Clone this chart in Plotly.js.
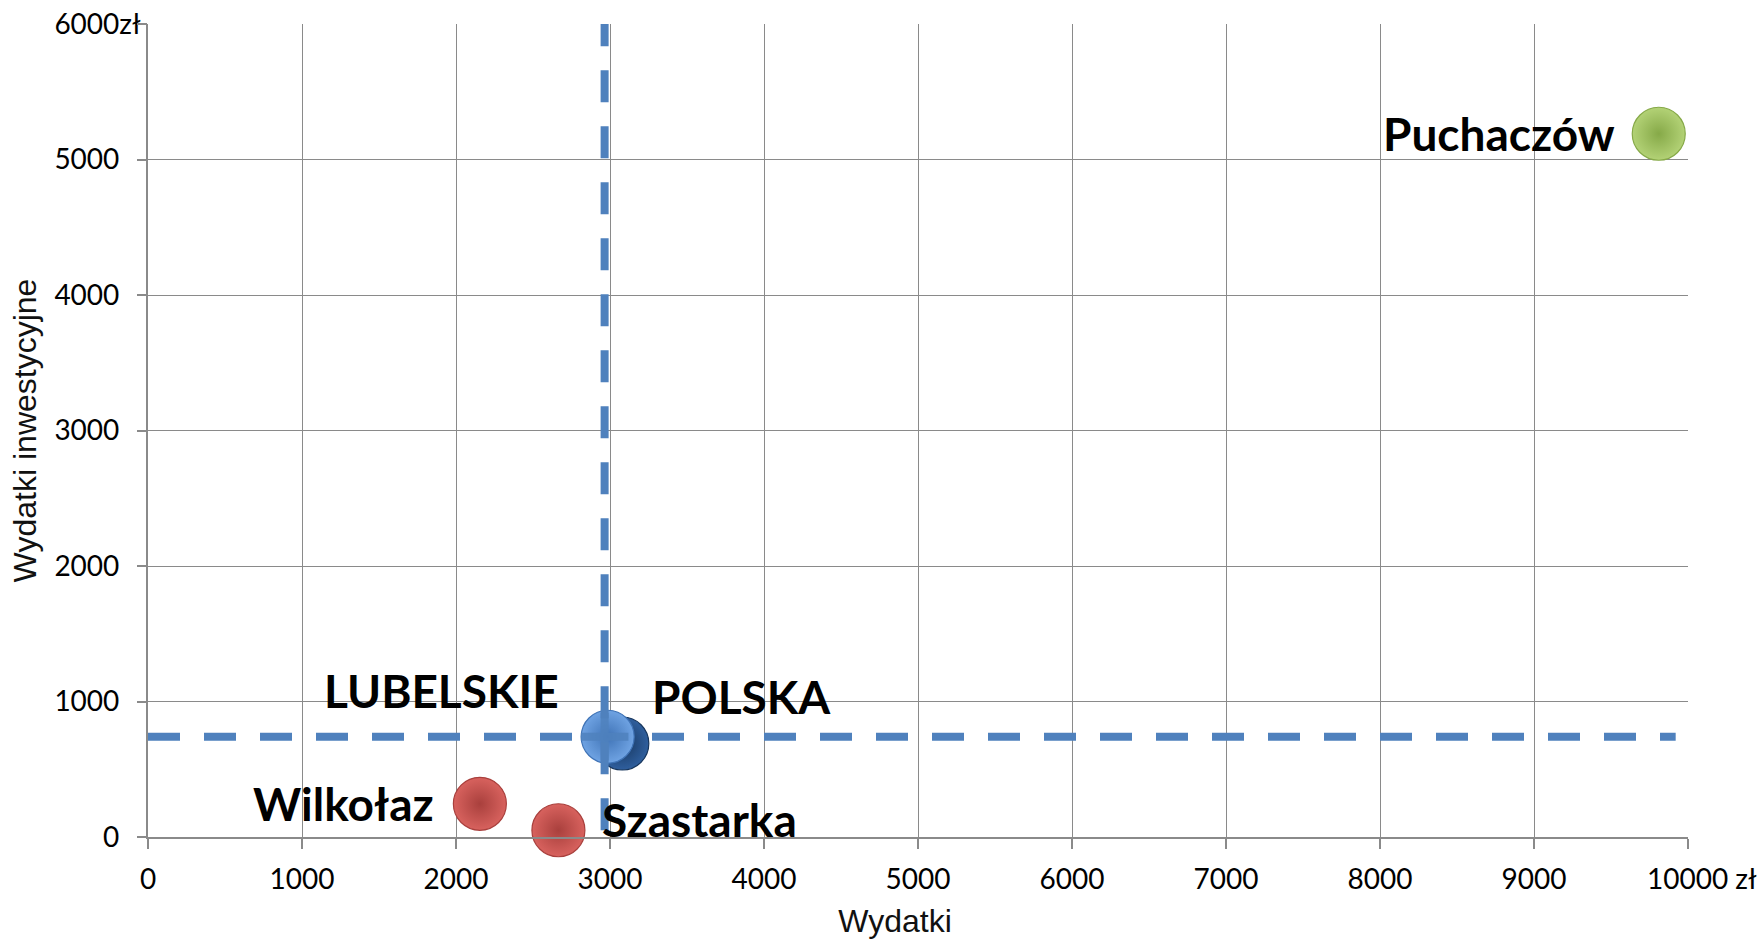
<!DOCTYPE html>
<html>
<head>
<meta charset="utf-8">
<script src="https://cdn.plot.ly/plotly-3.0.1.min.js"></script>
<style>html,body{margin:0;padding:0;background:#fff;}#chart{width:1760px;height:939px;}</style>
</head>
<body>
<div id="chart"></div>
<script>
// ---- data ----
const labels = ['Puchaczów', 'POLSKA', 'LUBELSKIE', 'Wilkołaz', 'Szastarka'];
const wydatki = [9810, 3080, 2985, 2155, 2665];          // x: Wydatki (zł)
const wydatkiInwest = [5190, 690, 740, 245, 50];          // y: Wydatki inwestycyjne (zł)
const refX = [2965, 2965];                                 // vertical reference line (x)
const refXspan = [50, 6000];
const refY = [740, 740];                                   // horizontal reference line (y)
const refYspan = [0, 9920];
const xTickVals = [0, 1000, 2000, 3000, 4000, 5000, 6000, 7000, 8000, 9000, 10000];
const xTickLabels = ['0', '1000', '2000', '3000', '4000', '5000', '6000', '7000', '8000', '9000', '10000 zł'];
const yTickVals = [0, 1000, 2000, 3000, 4000, 5000, 6000];
const yTickLabels = ['0', '1000', '2000', '3000', '4000', '5000', '6000zł'];

// ---- styles ----
const centers = ['#B3D276', '#2F5F9E', '#6FA3E3', '#D8625E', '#D8625E'];
const rims    = ['#86A948', '#17365D', '#3F73B6', '#A9403D', '#A9403D'];
const anchors = ['right', 'left', 'right', 'right', 'left'];
const xShifts = [-42, 28, -47, -44, 42];
const yShifts = [0, 47, 46, 0, 11];
const hidden = s => '<span style="color:rgba(0,0,0,0)">' + s + '</span>';
const yTickText = yTickLabels.map(t => t.endsWith('zł') ? t : t + hidden('zł'));
const xTickText = xTickLabels.map(t => t.endsWith(' zł') ? hidden('zł ') + t : t);
const lineColor = '#4F81BD';
const gridC = '#8A8A8A';
const tickFont = {family: 'Lato, sans-serif', size: 28, color: '#000'};
const titleFont = {family: 'Liberation Sans, Arial, sans-serif', size: 32, color: '#111'};

const traces = [];
traces.push({x: refYspan, y: refY, mode: 'lines', line: {color: lineColor, width: 8, dash: '32px,24px'}, hoverinfo: 'skip'});
traces.push({x: refX, y: refXspan, yaxis: 'y2', mode: 'lines', line: {color: lineColor, width: 8, dash: '32px,24px'}, hoverinfo: 'skip'});
labels.forEach((lab, i) => {
  traces.push({
    x: [wydatki[i]], y: [wydatkiInwest[i]], mode: 'markers', name: lab,
    marker: {size: 53, color: centers[i], gradient: {type: 'radial', color: rims[i]},
             line: {color: rims[i], width: 1.2}},
    cliponaxis: false, hovertemplate: lab + '<br>%{x} zł, %{y} zł<extra></extra>'
  });
});
// cross of the reference lines seen over the LUBELSKIE bubble
traces.push({x: [refX[0]], y: [refY[0]], mode: 'markers',
  marker: {symbol: 'cross-thin', size: 34, line: {color: 'rgba(79,129,189,0.85)', width: 8}},
  hoverinfo: 'skip'});

const annotations = labels.map((lab, i) => ({
  x: wydatki[i], y: wydatkiInwest[i], xref: 'x', yref: 'y', text: lab, showarrow: false,
  xanchor: anchors[i], yanchor: 'middle', xshift: xShifts[i], yshift: yShifts[i],
  font: {family: 'Lato, sans-serif', size: 46, weight: 'bold', color: '#000'}
}));

const layout = {
  width: 1760, height: 939,
  margin: {l: 148, r: 72, t: 24, b: 102},
  paper_bgcolor: '#fff', plot_bgcolor: '#fff',
  showlegend: false,
  font: {family: 'Lato, sans-serif', color: '#000'},
  annotations: annotations,
  xaxis: {
    range: [0, 10000], tickmode: 'array', tickvals: xTickVals, ticktext: xTickText,
    showgrid: true, gridcolor: gridC, gridwidth: 1.3, zeroline: false,
    showline: true, linecolor: gridC, linewidth: 1.5,
    ticks: 'outside', ticklen: 10, tickcolor: gridC, tickwidth: 1.5, ticklabelstandoff: 7,
    tickfont: tickFont,
    title: {text: 'Wydatki' + hidden('Wy'), font: titleFont, standoff: 16},
    fixedrange: true
  },
  yaxis: {
    range: [0, 6000], tickmode: 'array', tickvals: yTickVals, ticktext: yTickText,
    showgrid: true, gridcolor: gridC, gridwidth: 1.3, zeroline: false,
    showline: true, linecolor: gridC, linewidth: 1.5,
    ticks: '', ticklabelstandoff: 0,
    tickfont: tickFont,
    title: {text: 'Wydatki inwestycyjne', font: titleFont, standoff: 8},
    fixedrange: true
  },
  yaxis2: {
    overlaying: 'y', side: 'left', range: [0, 6000], tickmode: 'array', tickvals: yTickVals,
    ticks: 'outside', ticklen: 10, tickcolor: gridC, tickwidth: 1.5,
    showticklabels: false, showgrid: false, zeroline: false, showline: false, fixedrange: true
  }
};

Plotly.newPlot('chart', traces, layout, {displayModeBar: false});
</script>
</body>
</html>
